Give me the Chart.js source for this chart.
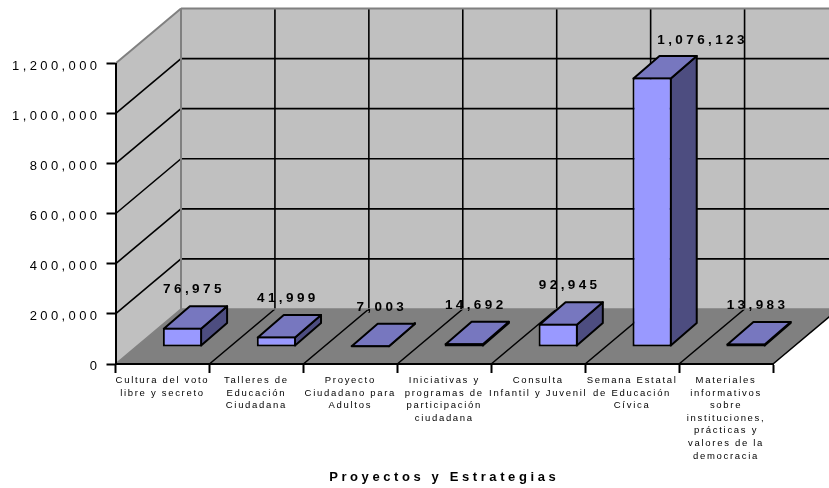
<!DOCTYPE html>
<html>
<head>
<meta charset="utf-8">
<title>Proyectos y Estrategias</title>
<script src="https://cdn.jsdelivr.net/npm/chart.js@4/dist/chart.umd.min.js"></script>
<style>
    html, body { margin: 0; padding: 0; background: #fff; overflow: hidden; }
    canvas { display: block; }
</style>
</head>
<body>
<canvas id="chart" width="829" height="488"></canvas>
<script>
const categories = [
    ['Cultura del voto', 'libre y secreto'],
    ['Talleres de', 'Educación', 'Ciudadana'],
    ['Proyecto', 'Ciudadano para', 'Adultos'],
    ['Iniciativas y', 'programas de', 'participación', 'ciudadana'],
    ['Consulta', 'Infantil y Juvenil'],
    ['Semana Estatal', 'de Educación', 'Cívica'],
    ['Materiales', 'informativos', 'sobre', 'instituciones,', 'prácticas y', 'valores de la', 'democracia']
];
const values = [76975, 41999, 7003, 14692, 92945, 1076123, 13983];
const axisTitle = 'Proyectos y Estrategias';

const FONT = '"Liberation Sans", Arial, sans-serif';
const fmt = v => v.toLocaleString('en-US');

// depth of the 3D box, and where the bars stand inside it
const DEPTH_X = 65.5, DEPTH_Y = -55;
const ROW_X = 20, ROW_Y = -17;
const BAR_X = 26, BAR_Y = -22.5;

const WALL = '#C0C0C0', FLOOR = '#808080', EDGE = '#808080';
const BAR_FRONT = '#9999FF', BAR_TOP = '#7777BF', BAR_SIDE = '#4D4D80';
const GRID_W = 1.6;

function poly(ctx, pts, fill) {
    ctx.beginPath();
    pts.forEach((p, i) => i ? ctx.lineTo(p[0], p[1]) : ctx.moveTo(p[0], p[1]));
    ctx.closePath();
    if (fill) { ctx.fillStyle = fill; ctx.fill(); }
}

function line(ctx, x1, y1, x2, y2, color, width) {
    ctx.strokeStyle = color;
    ctx.lineWidth = width;
    ctx.beginPath();
    ctx.moveTo(x1, y1);
    ctx.lineTo(x2, y2);
    ctx.stroke();
}

// walls and floor, from the scales
const box3d = {
    id: 'box3d',
    beforeDraw(chart) {
        const { ctx, scales: { x, y } } = chart;
        const l = x.left, r = x.right, b = y.bottom, t = y.top;
        const dx = DEPTH_X, dy = DEPTH_Y;
        const step = (r - l) / categories.length;

        ctx.save();
        poly(ctx, [[l, b], [l, t], [l + dx, t + dy], [l + dx, b + dy]], WALL);
        poly(ctx, [[l + dx, t + dy], [r + dx, t + dy], [r + dx, b + dy], [l + dx, b + dy]], WALL);
        poly(ctx, [[l, b], [r, b], [r + dx, b + dy], [l + dx, b + dy]], FLOOR);

        y.ticks.forEach(tick => {
            if (tick.value === 0) return;
            const py = y.getPixelForValue(tick.value);
            if (tick.value < y.max) {
                line(ctx, l + dx, py + dy, r + dx, py + dy, '#000', GRID_W);
                line(ctx, l, py, l + dx, py + dy, '#000', GRID_W);
            } else {
                line(ctx, l, py, l + dx, py + dy, EDGE, 2);
            }
        });
        for (let i = 1; i <= categories.length; i++) {
            const px = l + i * step;
            if (i < categories.length) line(ctx, px + dx, t + dy, px + dx, b + dy, '#000', GRID_W);
            line(ctx, px, b, px + dx, b + dy, '#000', GRID_W);
        }
        line(ctx, l + dx, t + dy, r + dx, t + dy, EDGE, 2);
        line(ctx, l + dx, t + dy, l + dx, b + dy, EDGE, 2);
        line(ctx, l + dx, b + dy, r + dx, b + dy, EDGE, 1.5);
        line(ctx, l, b, l + dx, b + dy, EDGE, GRID_W);
        ctx.restore();
    },
    afterLayout(chart) {
        // tick labels and the title are letter spaced in the original
        const { ctx, scales: { x, y } } = chart;
        const spaced = (scale, method, spacing, shiftY) => {
            if (scale['_' + method]) return;
            const orig = scale[method];
            scale['_' + method] = orig;
            scale[method] = function (area) {
                ctx.save();
                ctx.translate(0, shiftY);
                ctx.letterSpacing = spacing;
                orig.call(this, area);
                ctx.restore();
            };
        };
        spaced(y, 'drawLabels', '3.4px', 2.5);
        spaced(x, 'drawLabels', '1.7px', -1);
        spaced(x, 'drawTitle', '3.6px', 1);
    },
    beforeDatasetsDraw(chart) {
        const ctx = chart.ctx;
        const meta = chart.getDatasetMeta(0);
        ctx.save();
        ctx.translate(ROW_X, ROW_Y);
        ctx.lineJoin = 'round';
        ctx.lineWidth = 2;
        ctx.strokeStyle = '#000';
        meta.data.forEach(bar => {
            const { x, y, base, width } = bar.getProps(['x', 'y', 'base', 'width'], true);
            const left = x - width / 2 + 1, right = x + width / 2 - 1, top = y + 1, bottom = base - 1;
            poly(ctx, [[right, top], [right + BAR_X, top + BAR_Y], [right + BAR_X, bottom + BAR_Y], [right, bottom]], BAR_SIDE);
            ctx.stroke();
            poly(ctx, [[left, top], [left + BAR_X, top + BAR_Y], [right + BAR_X, top + BAR_Y], [right, top]], BAR_TOP);
            ctx.stroke();
        });
        // front faces drawn by chart.js in the same shifted plane
    },
    afterDatasetsDraw(chart) {
        const ctx = chart.ctx;
        ctx.restore();

        const meta = chart.getDatasetMeta(0);
        ctx.save();
        ctx.font = 'bold 13.5px ' + FONT;
        ctx.letterSpacing = '3.4px';
        ctx.fillStyle = '#000';
        ctx.textAlign = 'center';
        ctx.textBaseline = 'middle';
        meta.data.forEach((bar, i) => {
            const { x, y } = bar.getProps(['x', 'y'], true);
            // the tall bar's label sits off to the right
            const shift = i === 5 ? 50.5 : 11.5;
            ctx.fillText(fmt(values[i]), x + ROW_X + shift, y + ROW_Y - (i === 5 ? 37 : 38));
        });
        ctx.restore();
    }
};

new Chart(document.getElementById('chart'), {
    type: 'bar',
    data: {
        labels: categories,
        datasets: [{
            data: values,
            backgroundColor: BAR_FRONT,
            borderColor: '#000',
            borderWidth: 2,
            borderSkipped: false,
            barPercentage: 0.418,
            categoryPercentage: 1,
            clip: false
        }]
    },
    options: {
        responsive: false,
        animation: false,
        devicePixelRatio: 1,
        layout: { padding: { left: 0, top: 63.5, right: 56, bottom: 0 } },
        plugins: { legend: { display: false }, tooltip: { enabled: false } },
        scales: {
            x: {
                afterFit: s => { s.height = 124; },
                grid: { drawOnChartArea: false, color: '#000', tickColor: '#000', tickLength: 9, tickWidth: 2 },
                border: { color: '#000', width: 2 },
                ticks: {
                    color: '#000',
                    autoSkip: false,
                    maxRotation: 0,
                    minRotation: 0,
                    padding: 2,
                    font: { family: FONT, size: 9.5, lineHeight: 1.33 }
                },
                title: {
                    display: true,
                    text: axisTitle,
                    color: '#000',
                    padding: { top: 0, bottom: 4 },
                    font: { family: FONT, size: 13, weight: 'bold' }
                }
            },
            y: {
                min: 0,
                max: 1200000,
                afterFit: s => { s.width = 115.5; },
                grid: { drawOnChartArea: false, color: '#000', tickColor: '#000', tickLength: 9, tickWidth: 2 },
                border: { color: '#000', width: 2 },
                ticks: {
                    stepSize: 200000,
                    color: '#000',
                    padding: 6,
                    callback: v => fmt(v),
                    font: { family: FONT, size: 13 }
                }
            }
        }
    },
    plugins: [box3d]
});
</script>
</body>
</html>
